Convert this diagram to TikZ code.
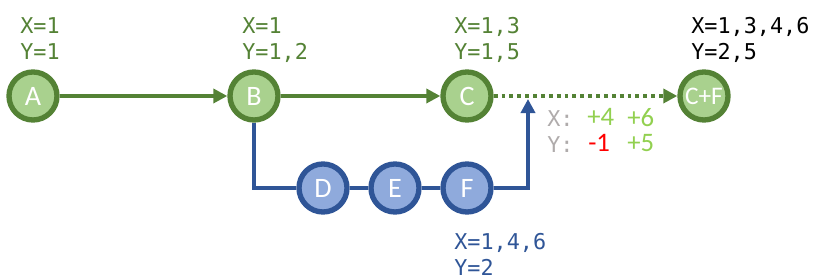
\documentclass[tikz,border=0pt]{standalone}
\usepackage{fontspec}
\setmainfont{Carlito}
\newfontfamily\codefont{DejaVu Sans Mono}
\usetikzlibrary{arrows.meta, positioning}
\definecolor{mainline}{RGB}{84, 130, 53}
\definecolor{mainfill}{RGB}{169, 209, 142}
\definecolor{sideline}{RGB}{47, 85, 151}
\definecolor{sidefill}{RGB}{143, 170, 220}
\definecolor{plusgreen}{RGB}{146, 208, 80}
\definecolor{diffgray}{RGB}{175, 171, 171}

\begin{document}
\begin{tikzpicture}[
  x=0.025cm, y=0.025cm,
  mnode/.style={circle, draw=mainline, fill=mainfill, line width=3.8pt, minimum size=1.2cm, inner sep=0pt, text=white, font=\fontsize{20}{20}\selectfont},
  snode/.style={circle, draw=sideline, fill=sidefill, line width=3.8pt, minimum size=1.2cm, inner sep=0pt, text=white, font=\fontsize{20}{20}\selectfont},
  marr/.style={-{Triangle[length=10pt, width=10pt]}, line width=3pt, mainline},
  sline/.style={line width=3pt, sideline},
  vals/.style={anchor=north west, inner sep=0pt, align=left, font=\codefont\fontsize{15.5}{18.5}\selectfont},
  diff/.style={anchor=north west, inner sep=0pt, align=left, font=\fontsize{19}{18.5}\selectfont}
]
  \useasboundingbox (0, 0) rectangle (820, 280);

  % Main branch
  \node[mnode] (a) at (33, 184) {A};
  \node[mnode] (b) at (254, 184) {B};
  \node[mnode] (c) at (467, 184) {C};
  \node[mnode, font=\fontsize{18}{18}\selectfont] (cf) at (704, 184) {C+F};
  \draw[marr] (a) -- (b);
  \draw[marr] (b) -- (c);
  \draw[marr, dash pattern=on 2.8pt off 2.8pt] (c) -- (cf);

  % Side branch
  \node[snode] (d) at (323, 92) {D};
  \node[snode] (e) at (395, 92) {E};
  \node[snode] (f) at (467, 92) {F};
  \coordinate (join) at (528, 181);
  \draw[sline] (b.south) |- (d.west);
  \draw[sline] (d) -- (e);
  \draw[sline] (e) -- (f);
  \draw[sline, -{Triangle[length=10pt, width=10pt]}] (f.east) -| (join);

  % Values
  \node[vals, text=mainline] (va) at (20, 263) {X=1\\Y=1};
  \node[vals, text=mainline] (vb) at (242, 263) {X=1\\Y=1,2};
  \node[vals, text=mainline] (vc) at (454, 263) {X=1,3\\Y=1,5};
  \node[vals, text=black] (vcf) at (691, 263) {X=1,3,4,6\\Y=2,5};
  \node[vals, text=sideline] (vf) at (454, 47) {X=1,4,6\\Y=2};

  % Differences
  \node[vals, text=diffgray] (dl) at (547, 170) {X:\\Y:};
  \node[diff, text=plusgreen] (dx) at (587, 172) {+4};
  \node[diff, text=plusgreen] (dx2) at (627, 172) {+6};
  \node[diff, text=red] (dy) at (588, 146) {-1};
  \node[diff, text=plusgreen] (dy2) at (627, 146) {+5};
\end{tikzpicture}
\end{document}
